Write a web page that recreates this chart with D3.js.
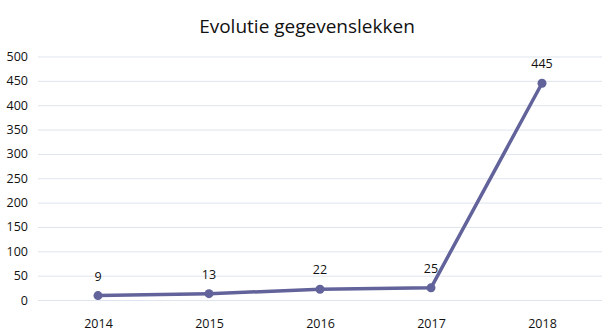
<!DOCTYPE html>
<html><head><meta charset="utf-8">
<script src="https://cdn.jsdelivr.net/npm/d3@7"></script>
<style>body{margin:0;background:#fff}svg{display:block}</style>
</head><body>
<svg id="c" width="615" height="336"></svg>
<script>
const years = ["2014","2015","2016","2017","2018"];
const values = [9, 13, 22, 25, 445];
const yTicks = [0,50,100,150,200,250,300,350,400,450,500];
const title = "Evolutie gegevenslekken";

const svg = d3.select("#c");
const font = "'Open Sans', Lato, sans-serif";
const x = d3.scalePoint().domain(years).range([98, 542]);
const y = d3.scaleLinear().domain([0, 500]).range([300, 56.5]);

svg.append("text").attr("x", 307).attr("y", 33).attr("text-anchor","middle")
  .attr("font-family", font).attr("font-size", 19).attr("fill","#111").text(title);

const gy = svg.append("g").attr("transform","translate(38,0)")
  .call(d3.axisLeft(y).tickValues(yTicks).tickSize(-564).tickPadding(10));
gy.select(".domain").remove();
gy.selectAll(".tick line").attr("stroke","#dfe5ee").attr("stroke-width",1);
gy.selectAll(".tick text").attr("font-family",font).attr("font-size",12.5).attr("fill","#111");

const gx = svg.append("g").attr("transform","translate(0,300)")
  .call(d3.axisBottom(x).tickSize(0).tickPadding(19));
gx.select(".domain").remove();
gx.selectAll(".tick text").attr("font-family",font).attr("font-size",12.5).attr("fill","#111");

const color = "#62639a";
svg.append("path").datum(values)
  .attr("d", d3.line().x((d,i)=>x(years[i])).y(d=>y(d)))
  .attr("fill","none").attr("stroke",color).attr("stroke-width",3.5).attr("stroke-linejoin","round");

svg.selectAll("circle.pt").data(values).enter().append("circle")
  .attr("cx",(d,i)=>x(years[i])).attr("cy",d=>y(d)).attr("r",4.5).attr("fill",color);

svg.selectAll("text.lbl").data(values).enter().append("text")
  .attr("x",(d,i)=>x(years[i])).attr("y",d=>y(d)-15).attr("text-anchor","middle")
  .attr("font-family",font).attr("font-size",12.5).attr("fill","#111").text(d=>d);
</script>
</body></html>
